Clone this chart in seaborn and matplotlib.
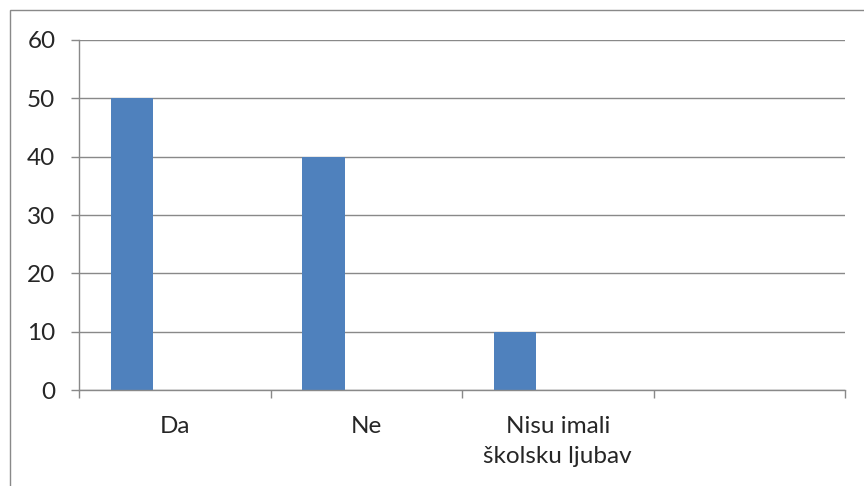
import matplotlib
matplotlib.use("Agg")
import matplotlib.pyplot as plt
from matplotlib.patches import Rectangle
from matplotlib.ticker import FixedLocator
import seaborn as sns
import pandas as pd
import numpy as np

categories = ["Da", "Ne", "Nisu imali\nškolsku ljubav", ""]
series_names = ["Series 1", "Series 2", "Series 3"]
series1 = [50, 40, 10, np.nan]
series2 = [np.nan, np.nan, np.nan, np.nan]
series3 = [np.nan, np.nan, np.nan, np.nan]
yticks = [0, 10, 20, 30, 40, 50, 60]

rows = []
for name, vals in zip(series_names, [series1, series2, series3]):
    for c, v in zip(categories, vals):
        rows.append({"cat": c, "series": name, "value": v})
df = pd.DataFrame(rows)

sns.set_theme(style="white")
plt.rcParams['font.family'] = ['Lato', 'DejaVu Sans']

fig = plt.figure(figsize=(8.64, 4.86), dpi=100)
ax = fig.add_axes([79/864, 1-390/486, (845-79)/864, (390-40)/486])

sns.barplot(data=df, x="cat", y="value", hue="series", order=categories,
            hue_order=series_names, palette=["#4F81BD"]*3, width=2/3,
            saturation=1, legend=False, ax=ax, errorbar=None, linewidth=0)

grid_c = "#898989"
ax.set_xlim(-0.5, len(categories)-0.5)
ax.set_ylim(0, 60)
ax.set_yticks(yticks)
ax.yaxis.grid(True, color=grid_c, linewidth=1)
ax.set_axisbelow(True)
for s in ["top", "right"]:
    ax.spines[s].set_visible(False)
for s in ["left", "bottom"]:
    ax.spines[s].set_color(grid_c)
    ax.spines[s].set_linewidth(1)
ax.set_xlabel("")
ax.set_ylabel("")
ax.tick_params(axis="y", which="major", length=6, color=grid_c, width=1,
               labelsize=17.5, pad=11, left=True)
ax.tick_params(axis="x", which="major", length=0, labelsize=17.5, pad=19)
ax.xaxis.set_minor_locator(FixedLocator(np.arange(-0.5, len(categories), 1.0)))
ax.tick_params(axis="x", which="minor", length=6, color=grid_c, width=1, bottom=True)
for lab in ax.get_xticklabels():
    lab.set_linespacing(1.5)
    lab.set_verticalalignment("top")

fig.patches.append(Rectangle((10/864, -0.1), 1.2, 1.1 - 10/486,
                             transform=fig.transFigure, fill=False,
                             edgecolor=grid_c, linewidth=1))

fig.savefig("out.png", dpi=100)
